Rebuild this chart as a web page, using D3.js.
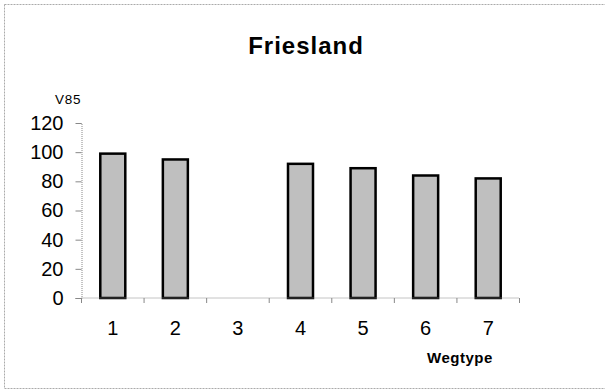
<!DOCTYPE html>
<html>
<head>
<meta charset="utf-8">
<script src="https://cdn.jsdelivr.net/npm/d3@7"></script>
<style>
  html, body { margin: 0; padding: 0; background: #fff; }
  svg { display: block; }
  text { font-family: "Liberation Sans", Arial, sans-serif; }
</style>
</head>
<body>
<svg id="chart" width="605" height="390"></svg>
<script>
const categories = ["1", "2", "3", "4", "5", "6", "7"];
const values = [99, 95, null, 92, 89, 84, 82];
const yTicks = [0, 20, 40, 60, 80, 100, 120];
const title = "Friesland";
const yTitle = "V85";
const xTitle = "Wegtype";

const svg = d3.select("#chart");

// outer chart frame
svg.append("rect")
  .attr("x", 4.5).attr("y", 4.5).attr("width", 610).attr("height", 384)
  .attr("fill", "none").attr("stroke", "#aaa").attr("stroke-width", 1)
  .attr("stroke-dasharray", "2,1");

const plot = { left: 81.5, right: 519.5, top: 123, bottom: 298 };

const xc = d3.scaleBand().domain(categories).range([plot.left, plot.right]);
const y = d3.scaleLinear().domain([0, 120]).range([plot.bottom, plot.top]);

// bars
svg.append("g").selectAll("rect")
  .data(categories.map((c, i) => ({ c, v: values[i] })).filter(d => d.v != null))
  .join("rect")
  .attr("x", d => xc(d.c) + xc.bandwidth() / 2 - 12.5)
  .attr("width", 25)
  .attr("y", d => y(d.v))
  .attr("height", d => y(0) - y(d.v))
  .attr("fill", "#bfbfbf")
  .attr("stroke", "#000")
  .attr("stroke-width", 2.5);

// y axis
const yAxis = svg.append("g")
  .attr("transform", `translate(${plot.left},0)`)
  .call(d3.axisLeft(y).tickValues(yTicks).tickSize(6).tickPadding(12));
yAxis.select(".domain").attr("stroke", "#888").attr("stroke-dasharray", "1,1");
yAxis.selectAll(".tick line").attr("stroke", "#888");
yAxis.selectAll(".tick text")
  .attr("font-size", 20).attr("fill", "#000")
  .attr("font-family", "Liberation Sans, Arial, sans-serif");

// x axis: ticks at category boundaries
const xAxisG = svg.append("g").attr("transform", `translate(0,${plot.bottom})`);
xAxisG.append("line")
  .attr("x1", plot.left).attr("x2", plot.right)
  .attr("stroke", "#888").attr("stroke-dasharray", "1,1");
xAxisG.selectAll("line.tk")
  .data(categories.map(c => xc(c) + xc.bandwidth()).concat([plot.left]))
  .join("line").attr("class", "tk")
  .attr("x1", d => d).attr("x2", d => d)
  .attr("y1", 0).attr("y2", 5)
  .attr("stroke", "#888");
xAxisG.selectAll("text.lbl")
  .data(categories)
  .join("text").attr("class", "lbl")
  .attr("x", d => xc(d) + xc.bandwidth() / 2)
  .attr("y", 37)
  .attr("text-anchor", "middle")
  .attr("font-size", 20)
  .text(d => d);

// titles
svg.append("text")
  .attr("x", 306).attr("y", 54)
  .attr("text-anchor", "middle")
  .attr("font-size", 24).attr("font-weight", "bold")
  .attr("letter-spacing", 1)
  .text(title);

svg.append("text")
  .attr("x", 55).attr("y", 104)
  .attr("font-size", 13.5)
  .attr("letter-spacing", 0.8)
  .text(yTitle);

svg.append("text")
  .attr("x", 427).attr("y", 363)
  .attr("font-size", 15).attr("font-weight", "bold")
  .attr("letter-spacing", 0.5)
  .text(xTitle);
</script>
</body>
</html>
